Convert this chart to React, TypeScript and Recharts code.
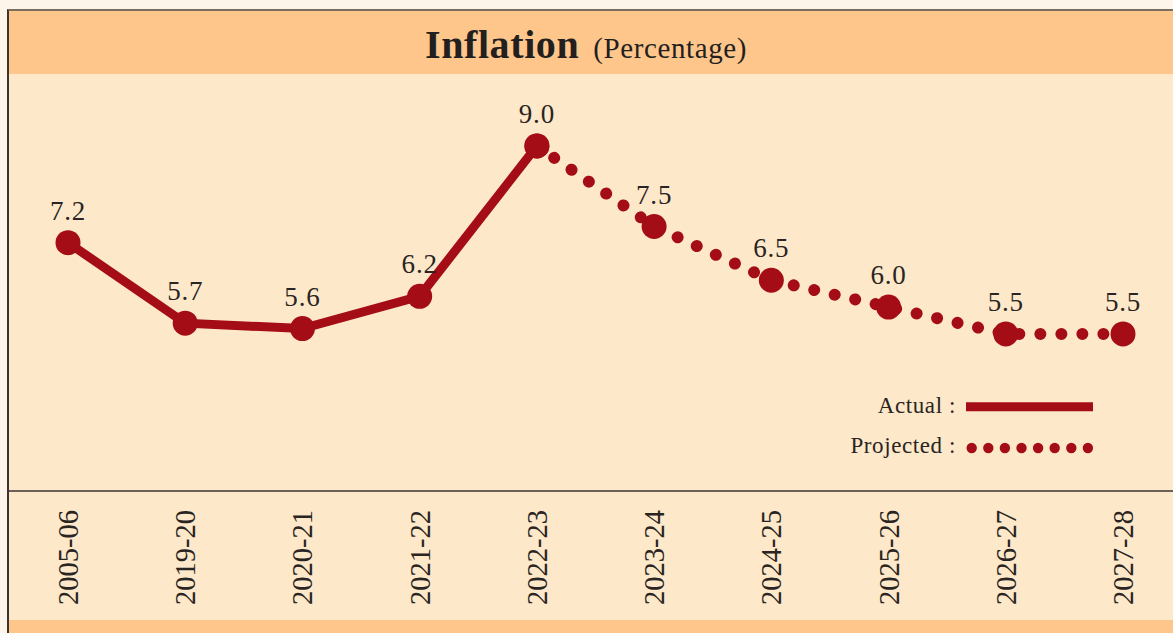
import React from "react";
import { LineChart, Line, XAxis, YAxis, LabelList, Legend } from "recharts";

const years = ["2005-06", "2019-20", "2020-21", "2021-22", "2022-23", "2023-24", "2024-25", "2025-26", "2026-27", "2027-28"];
const actualValues: (number | null)[] = [7.2, 5.7, 5.6, 6.2, 9.0, null, null, null, null, null];
const projectedValues: (number | null)[] = [null, null, null, null, 9.0, 7.5, 6.5, 6.0, 5.5, 5.5];
const valueLabels = ["7.2", "5.7", "5.6", "6.2", "9.0", "7.5", "6.5", "6.0", "5.5", "5.5"];

const data = years.map((year, i) => ({
  year,
  actual: actualValues[i],
  projected: projectedValues[i],
  label: valueLabels[i],
}));

const RED = "#a50d16";
const TEXT = "#2a2422";
const SERIF = "'Liberation Serif', 'Times New Roman', serif";

const YearTick = (props: any) => {
  const { x, payload } = props;
  const top = 510;
  return (
    <text
      x={x}
      y={top}
      transform={`rotate(-90 ${x} ${top})`}
      textAnchor="end"
      dy="0.35em"
      fontFamily={SERIF}
      fontSize={28.5}
      fill={TEXT}
    >
      {payload.value}
    </text>
  );
};

const makeLabel = (from: number, to: number) => (props: any) => {
  const { x, y, index } = props;
  if (index < from || index > to) return null;
  return (
    <text x={x} y={y - 23} textAnchor="middle" fontFamily={SERIF} fontSize={27} letterSpacing={0.8} fill={TEXT}>
      {valueLabels[index]}
    </text>
  );
};

const BigDot = (props: any) => {
  const { cx, cy, value } = props;
  if (value == null || cx == null || cy == null) return <g />;
  return <circle cx={cx} cy={cy} r={12.5} fill={RED} />;
};

const LegendContent = () => (
  <svg width={270} height={80}>
    <text x={116} y={28} textAnchor="end" fontFamily={SERIF} fontSize={23} letterSpacing={0.6} fill={TEXT}>
      Actual :
    </text>
    <line x1={126} x2={253} y1={21.7} y2={21.7} stroke={RED} strokeWidth={9} />
    <text x={116} y={68} textAnchor="end" fontFamily={SERIF} fontSize={23} letterSpacing={0.6} fill={TEXT}>
      Projected :
    </text>
    {[0, 1, 2, 3, 4, 5, 6, 7].map((i) => (
      <circle key={i} cx={131.7 + i * 16.6} cy={63} r={5.2} fill={RED} />
    ))}
  </svg>
);

export default function App() {
  return (
    <div style={{ position: "absolute", left: 0, top: 0, width: 1173, height: 633, background: "#fdf5ea", overflow: "hidden" }}>
      <div
        style={{
          position: "absolute",
          left: 7,
          top: 9,
          width: 1173,
          height: 640,
          background: "#fde9ca",
          borderLeft: "2px solid #3a3330",
          borderTop: "2px solid #7a6e60",
        }}
      />
      <div
        style={{
          position: "absolute",
          left: 9,
          top: 11,
          width: 1164,
          height: 63,
          background: "#fec68b",
        }}
      />
      <svg style={{ position: "absolute", left: 0, top: 0 }} width={1173} height={633}>
        <text x={586} y={58} textAnchor="middle" fontFamily={SERIF} fill="#231f1e">
          <tspan fontSize={40} fontWeight="bold" letterSpacing={0.6}>Inflation</tspan>
          <tspan fontSize={29} dx={14} letterSpacing={0.6}>(Percentage)</tspan>
        </text>
        <line x1={9} x2={1173} y1={491} y2={491} stroke="#3a3330" strokeWidth={1.5} />
      </svg>
      <div
        style={{
          position: "absolute",
          left: 9,
          top: 620,
          width: 1164,
          height: 13,
          background: "#fec68b",
        }}
      />
      <div style={{ position: "absolute", left: 0, top: 0 }}>
        <LineChart width={1173} height={633} data={data} margin={{ top: 74, right: 50, left: 68, bottom: 0 }}>
          <XAxis
            dataKey="year"
            height={142}
            interval={0}
            axisLine={false}
            tickLine={false}
            tick={<YearTick />}
          />
          <YAxis hide domain={[2.575, 10.34]} />
          <Legend
            layout="vertical"
            align="center"
            verticalAlign="middle"
            content={<LegendContent />}
            wrapperStyle={{ position: "absolute", left: 840, top: 385, width: 270, height: 80 }}
          />
          <Line
            dataKey="projected"
            stroke={RED}
            strokeWidth={12}
            strokeDasharray="0.01 21"
            strokeLinecap="round"
            dot={<BigDot />}
            activeDot={false}
            isAnimationActive={false}
            connectNulls={false}
          >
            <LabelList dataKey="label" content={makeLabel(5, 9)} />
          </Line>
          <Line
            dataKey="actual"
            stroke={RED}
            strokeWidth={9}
            dot={<BigDot />}
            activeDot={false}
            isAnimationActive={false}
            connectNulls={false}
          >
            <LabelList dataKey="label" content={makeLabel(0, 4)} />
          </Line>
        </LineChart>
      </div>
    </div>
  );
}
